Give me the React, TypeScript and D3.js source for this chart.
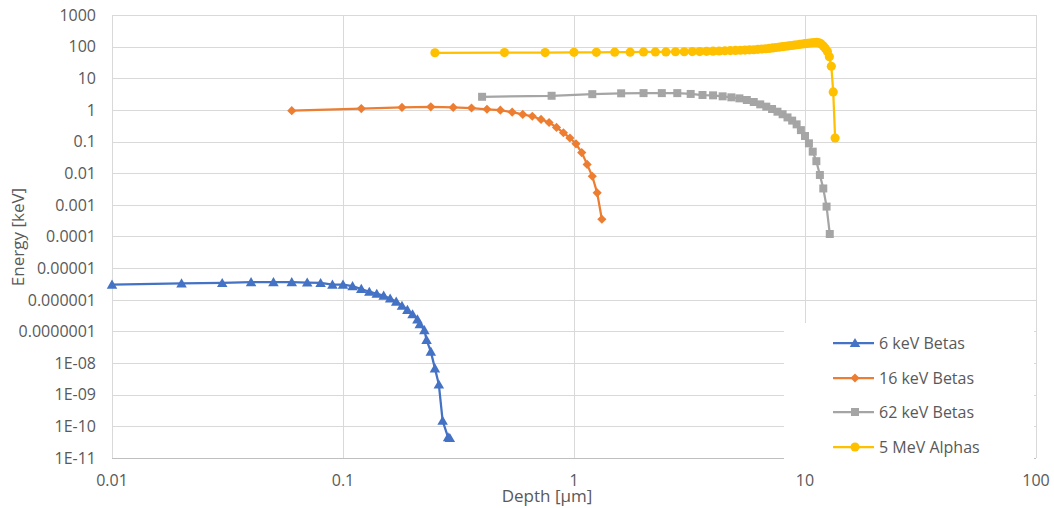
import React from "react";
import * as d3 from "d3";

const xTicks = [0.01, 0.1, 1, 10, 100];
const xTickLabels = ["0.01", "0.1", "1", "10", "100"];
const yTicks = [1000, 100, 10, 1, 0.1, 0.01, 0.001, 0.0001, 1e-5, 1e-6, 1e-7, 1e-8, 1e-9, 1e-10, 1e-11];
const yTickLabels = ["1000", "100", "10", "1", "0.1", "0.01", "0.001", "0.0001", "0.00001", "0.000001", "0.0000001", "1E-08", "1E-09", "1E-10", "1E-11"];

const beta6Depth = [0.01, 0.02, 0.03, 0.04, 0.05, 0.06, 0.07, 0.08, 0.09, 0.10, 0.11, 0.12, 0.13, 0.14, 0.15, 0.16, 0.17, 0.18, 0.19, 0.20, 0.21, 0.215, 0.225, 0.23, 0.24, 0.25, 0.26, 0.27, 0.285, 0.29];
const beta6Energy = [3e-6, 3.3e-6, 3.4e-6, 3.6e-6, 3.6e-6, 3.6e-6, 3.5e-6, 3.4e-6, 3.0e-6, 3.0e-6, 2.7e-6, 2.2e-6, 1.8e-6, 1.55e-6, 1.35e-6, 1.1e-6, 8.7e-7, 6.5e-7, 4.8e-7, 3.5e-7, 2.4e-7, 1.7e-7, 1.1e-7, 5.4e-8, 2.3e-8, 6.8e-9, 2.1e-9, 1.5e-10, 4.5e-11, 4.3e-11];

const beta16Depth = [0.06, 0.12, 0.18, 0.24, 0.30, 0.36, 0.42, 0.48, 0.54, 0.60, 0.66, 0.72, 0.78, 0.84, 0.90, 0.96, 1.02, 1.08, 1.14, 1.20, 1.26, 1.32];
const beta16Energy = [0.95, 1.1, 1.2, 1.25, 1.2, 1.15, 1.05, 0.98, 0.85, 0.72, 0.63, 0.5, 0.4, 0.28, 0.19, 0.13, 0.085, 0.045, 0.019, 0.008, 0.0024, 0.00035];

const beta62Depth = [0.4, 0.8, 1.2, 1.6, 2.0, 2.4, 2.8, 3.2, 3.6, 4.0, 4.4, 4.8, 5.2, 5.6, 6.0, 6.4, 6.8, 7.2, 7.6, 8.0, 8.4, 8.8, 9.2, 9.6, 10.0, 10.4, 10.8, 11.2, 11.6, 12.0, 12.4, 12.8];
const beta62Energy = [2.6, 2.8, 3.15, 3.35, 3.4, 3.4, 3.4, 3.2, 2.96, 2.89, 2.69, 2.5, 2.32, 2.06, 1.78, 1.5, 1.27, 1.07, 0.88, 0.73, 0.58, 0.46, 0.35, 0.23, 0.15, 0.088, 0.048, 0.024, 0.0088, 0.0033, 0.00088, 0.00012];

const alphaDepth = [0.25, 0.5, 0.75, 1.0, 1.25, 1.5, 1.75, 2.0, 2.25, 2.5, 2.75, 3.0, 3.25, 3.5, 3.75, 4.0, 4.25, 4.5, 4.75, 5.0, 5.25, 5.5, 5.75, 6.0, 6.25, 6.5, 6.75, 7.0, 7.25, 7.5, 7.75, 8.0, 8.25, 8.5, 8.75, 9.0, 9.25, 9.5, 9.75, 10.0, 10.25, 10.5, 10.75, 11.0, 11.25, 11.5, 11.75, 12.0, 12.25, 12.5, 12.75, 13.0, 13.25, 13.5];
const alphaEnergy = [64, 65, 65, 66, 66, 67, 67, 68, 68, 68, 69, 69, 70, 70, 71, 72, 73, 74, 75, 76, 77, 78, 79, 80, 82, 84, 86, 88, 91, 94, 97, 100, 103, 106, 109, 112, 115, 118, 121, 124, 127, 130, 133, 135, 136, 132, 122, 105, 88, 70, 48, 24, 3.7, 0.13];

const seriesNames = ["6 keV Betas", "16 keV Betas", "62 keV Betas", "5 MeV Alphas"];
const seriesColors = ["#4472C4", "#ED7D31", "#A5A5A5", "#FFC000"];

const W = 1054, H = 508;
const plot = { left: 112, right: 1036, top: 15, bottom: 458 };
const FONT = "'Open Sans', 'Liberation Sans', sans-serif";
const TXT = "#595959";

const x = d3.scaleLog().domain([0.01, 100]).range([plot.left, plot.right]);
const y = d3.scaleLog().domain([1e-11, 1000]).range([plot.bottom, plot.top]);

const symTri = d3.symbol().type(d3.symbolTriangle).size(48)();
const symSq = d3.symbol().type(d3.symbolSquare).size(64)();
const symDia = d3.symbol().type(d3.symbolSquare).size(42)();
const symCirc = d3.symbol().type(d3.symbolCircle).size(66)();

const markers = [
  { path: symTri, rot: 0, dy: 1 },
  { path: symDia, rot: 45, dy: 0 },
  { path: symSq, rot: 0, dy: 0 },
  { path: symCirc, rot: 0, dy: 0 },
];

const series = [
  { xs: beta6Depth, ys: beta6Energy },
  { xs: beta16Depth, ys: beta16Energy },
  { xs: beta62Depth, ys: beta62Energy },
  { xs: alphaDepth, ys: alphaEnergy },
];

const line = d3.line<[number, number]>().x((d) => x(d[0])).y((d) => y(d[1]));

export default function App() {
  const legend = { x: 784, y: 323, w: 250, h: 139 };
  const legendRowY = [343, 378, 412, 447];
  return (
    <svg width={W} height={H} style={{ position: "absolute", left: 0, top: 0, background: "#fff" }} fontFamily={FONT}>
      <rect x={0} y={0} width={W} height={H} fill="#fff" />
      {/* gridlines */}
      {yTicks.map((t) => (
        <line key={"gy" + t} x1={plot.left} x2={plot.right} y1={Math.round(y(t)) + 0.5} y2={Math.round(y(t)) + 0.5} stroke="#d9d9d9" strokeWidth={1} />
      ))}
      {xTicks.map((t) => (
        <line key={"gx" + t} x1={Math.round(x(t)) + 0.5} x2={Math.round(x(t)) + 0.5} y1={plot.top} y2={plot.bottom} stroke="#d9d9d9" strokeWidth={1} />
      ))}
      <line x1={plot.left} x2={plot.right} y1={plot.bottom + 0.5} y2={plot.bottom + 0.5} stroke="#bfbfbf" strokeWidth={1} />
      {/* y tick labels */}
      {yTicks.map((t, i) => (
        <text key={"ly" + t} x={96} y={y(t)} dy="0.36em" textAnchor="end" fontSize={16} fill={TXT}>
          {yTickLabels[i]}
        </text>
      ))}
      {xTicks.map((t, i) => (
        <text key={"lx" + t} x={x(t)} y={486} textAnchor="middle" fontSize={16} fill={TXT}>
          {xTickLabels[i]}
        </text>
      ))}
      {/* series */}
      {series.map((s, si) => {
        const pts: [number, number][] = s.xs.map((v, i) => [v, s.ys[i]]);
        return (
          <g key={"s" + si}>
            <path d={line(pts) || ""} fill="none" stroke={seriesColors[si]} strokeWidth={2.25} strokeLinejoin="round" />
            {pts.map((p, i) => (
              <path
                key={i}
                d={markers[si].path}
                fill={seriesColors[si]}
                transform={`translate(${x(p[0])},${y(p[1]) + markers[si].dy}) rotate(${markers[si].rot})`}
              />
            ))}
          </g>
        );
      })}
      {/* legend */}
      <rect x={legend.x} y={legend.y} width={legend.w} height={legend.h} fill="#fff" />
      {seriesNames.map((n, i) => (
        <g key={"lg" + i}>
          <line x1={833} x2={874} y1={legendRowY[i]} y2={legendRowY[i]} stroke={seriesColors[i]} strokeWidth={2.25} />
          <path d={markers[i].path} fill={seriesColors[i]} transform={`translate(855,${legendRowY[i] + markers[i].dy}) rotate(${markers[i].rot})`} />
          <text x={879} y={legendRowY[i]} dy="0.36em" fontSize={16} fill={TXT}>
            {n}
          </text>
        </g>
      ))}
      {/* axis titles */}
      <text x={547} y={502} textAnchor="middle" fontSize={17} fill={TXT}>
        Depth [µm]
      </text>
      <text transform="translate(24,237) rotate(-90)" textAnchor="middle" fontSize={17} fill={TXT}>
        Energy [keV]
      </text>
    </svg>
  );
}
